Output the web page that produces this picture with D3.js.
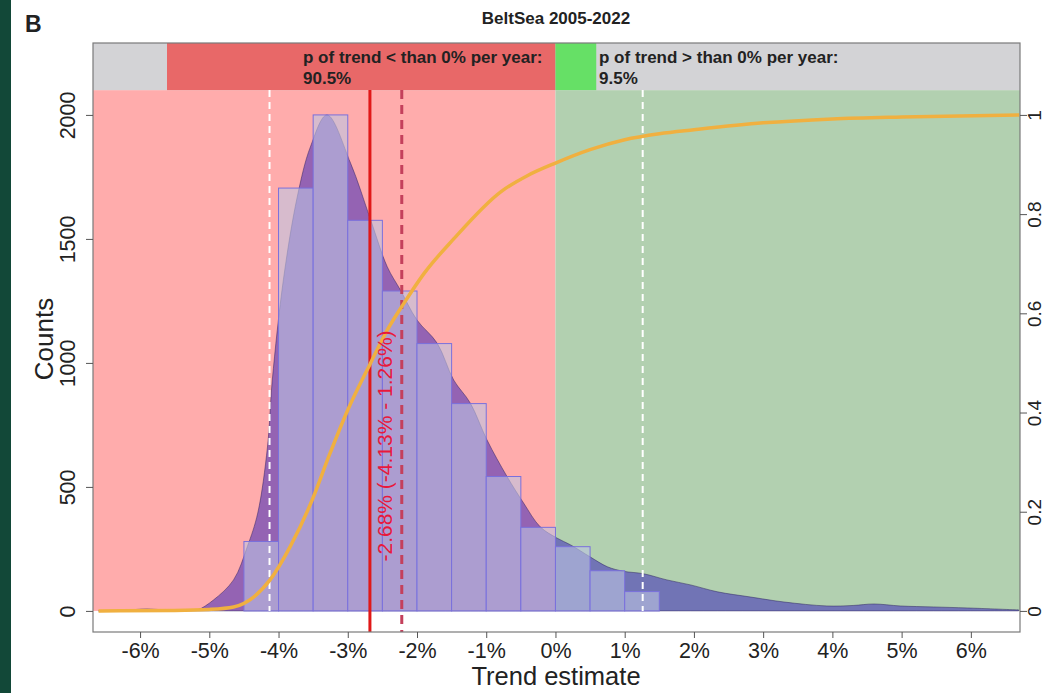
<!DOCTYPE html>
<html>
<head>
<meta charset="utf-8">
<script src="https://cdn.jsdelivr.net/npm/d3@7"></script>
<style>
  html, body { margin: 0; padding: 0; background: #ffffff; }
  svg text { font-family: "Liberation Sans", Arial, Helvetica, sans-serif; }
</style>
</head>
<body>
<svg id="chart" width="1043" height="693"></svg>
<script>
// ---------------- data ----------------
const titleText = "BeltSea 2005-2022";
const panelLetter = "B";
const xTicks = [-6, -5, -4, -3, -2, -1, 0, 1, 2, 3, 4, 5, 6];
const yTicks = [0, 500, 1000, 1500, 2000];
const y2Ticks = [0, 0.2, 0.4, 0.6, 0.8, 1];
const y2TickLabels = ["0", "0.2", "0.4", "0.6", "0.8", "1"];

// histogram bins (trend in %), width 0.5
const binStarts = [-4.5, -4, -3.5, -3, -2.5, -2, -1.5, -1, -0.5, 0, 0.5, 1];
const binCounts = [280, 1705, 2000, 1575, 1290, 1078, 836, 542, 337, 259, 162, 78];
const binWidth = 0.5;

// kernel density (scaled to counts)
const densX = [-6.6, -6.2, -5.9, -5.6, -5.3, -5.17, -4.94, -4.65, -4.45, -4.3, -4.16, -4.09, -3.93, -3.73, -3.54, -3.3, -2.96, -2.67, -2.43, -2.24, -2.0, -1.71, -1.47, -1.23, -0.99, -0.7, -0.46, -0.22, 0.02, 0.22, 0.5, 0.75, 0.98, 1.27, 1.61, 1.95, 2.34, 2.82, 3.3, 3.92, 4.3, 4.6, 4.98, 5.46, 5.95, 6.69];
const densY = [0, 3, 8, 3, 2, 4, 44, 125, 260, 395, 661, 931, 1335, 1669, 1871, 2000, 1806, 1577, 1388, 1294, 1173, 1080, 931, 838, 690, 542, 435, 339, 294, 266, 218, 178, 160, 150, 125, 105, 77, 56, 36, 20, 22, 28, 20, 16, 12, 4];

// cumulative probability (right axis)
const cdfX = [-6.6, -5.5, -5, -4.65, -4.36, -4.12, -3.83, -3.54, -3.25, -3.0, -2.67, -2.43, -2.19, -1.9, -1.47, -0.79, -0.4, 0, 0.5, 1, 1.5, 2, 3, 4, 5, 6.7];
const cdfY = [0, 0.001, 0.003, 0.008, 0.028, 0.063, 0.13, 0.215, 0.32, 0.405, 0.5, 0.566, 0.62, 0.68, 0.75, 0.845, 0.878, 0.903, 0.93, 0.95, 0.962, 0.97, 0.984, 0.992, 0.996, 1.0];

const median = -2.68, ciLow = -4.13, ciHigh = 1.26, meanTrend = -2.22;
const pLess = 0.905, pMore = 0.095;
const lessLabel = ["p of trend < than 0% per year:", "90.5%"];
const moreLabel = ["p of trend > than 0% per year:", "9.5%"];
const medianLabel = "-2.68% (-4.13% - 1.26%)";
const xTitle = "Trend estimate", yTitle = "Counts";

// ---------------- layout ----------------
const svg = d3.select("#chart");
const L = 93, R = 1020, T = 43, B = 632;
const x = d3.scaleLinear().domain([-6.68, 6.71]).range([L, R]);
const y = d3.scaleLinear().domain([-85, 2290]).range([B, T]);
const y2 = d3.scaleLinear().domain([0, 1]).range([y(0), y(2000)]);
const bandBase = 2100;      // start of top probability band (count units)
const bandScale = 6.2;      // width of 100% probability in x units
const tickFont = 21.5;

svg.append("rect").attr("x", 0).attr("y", 0).attr("width", 1043).attr("height", 693).attr("fill", "#ffffff");
svg.append("rect").attr("x", 0).attr("y", 0).attr("width", 11).attr("height", 693).attr("fill", "#124838");

const clip = svg.append("defs").append("clipPath").attr("id", "clip");
clip.append("rect").attr("x", L).attr("y", T).attr("width", R - L).attr("height", B - T);
const g = svg.append("g").attr("clip-path", "url(#clip)");

// backgrounds
g.append("rect").attr("x", x(-7)).attr("y", y(bandBase)).attr("width", x(0) - x(-7)).attr("height", y(0) - y(bandBase)).attr("fill", "#FFACAC");
g.append("rect").attr("x", x(0)).attr("y", y(bandBase)).attr("width", x(7) - x(0)).attr("height", y(0) - y(bandBase)).attr("fill", "#B2D0B0");
// top band
g.append("rect").attr("x", L).attr("y", T).attr("width", R - L).attr("height", y(bandBase) - T).attr("fill", "#D3D3D6");
g.append("rect").attr("x", x(-pLess * bandScale)).attr("y", T).attr("width", x(0) - x(-pLess * bandScale)).attr("height", y(bandBase) - T).attr("fill", "#E86868");
g.append("rect").attr("x", x(0)).attr("y", T).attr("width", x(pMore * bandScale) - x(0)).attr("height", y(bandBase) - T).attr("fill", "#66E066");

// density polygon
const densPts = densX.map((d, i) => [d, densY[i]]);
const area = d3.area().x(d => x(d[0])).y0(y(0)).y1(d => y(d[1])).curve(d3.curveCatmullRom.alpha(0.5));
g.append("path").datum(densPts).attr("d", area).attr("fill", "rgba(60,40,185,0.55)").attr("stroke", "rgba(40,30,90,0.6)").attr("stroke-width", 0.8);

// histogram bars
g.selectAll("rect.bar").data(binStarts).enter().append("rect").attr("class", "bar")
  .attr("x", d => x(d)).attr("width", d => x(d + binWidth) - x(d))
  .attr("y", (d, i) => y(binCounts[i])).attr("height", (d, i) => y(0) - y(binCounts[i]))
  .attr("fill", "rgba(188,196,226,0.6)").attr("stroke", "#7a70dc").attr("stroke-width", 1);

// CI lines (white dashed)
[ciLow, ciHigh].forEach(v => {
  g.append("line").attr("x1", x(v)).attr("x2", x(v)).attr("y1", y(bandBase)).attr("y2", y(0))
    .attr("stroke", "#ffffff").attr("stroke-width", 2).attr("stroke-dasharray", "7,5");
});
// mean (dashed) & median (solid)
g.append("line").attr("x1", x(meanTrend)).attr("x2", x(meanTrend)).attr("y1", y(bandBase)).attr("y2", B)
  .attr("stroke", "#C4405C").attr("stroke-width", 3).attr("stroke-dasharray", "9,6");
g.append("line").attr("x1", x(median)).attr("x2", x(median)).attr("y1", y(bandBase)).attr("y2", B)
  .attr("stroke", "#E01818").attr("stroke-width", 3);

// CDF line
const cdfPts = cdfX.map((d, i) => [d, cdfY[i]]);
const line = d3.line().x(d => x(d[0])).y(d => y2(d[1])).curve(d3.curveMonotoneX);
g.append("path").datum(cdfPts).attr("d", line).attr("fill", "none").attr("stroke", "#F0B040").attr("stroke-width", 3.5);

// median label
svg.append("text").attr("transform", `translate(${x(median) + 15},446) rotate(-90)`)
  .attr("text-anchor", "middle").attr("dominant-baseline", "central")
  .attr("font-size", 21).attr("fill", "#E8183C").text(medianLabel);

// band labels
[[lessLabel, 303], [moreLabel, 599]].forEach(([lab, px]) => {
  svg.append("text").attr("x", px).attr("y", 63).attr("font-size", 17).attr("font-weight", "bold").attr("fill", "#222").text(lab[0]);
  svg.append("text").attr("x", px).attr("y", 84).attr("font-size", 17).attr("font-weight", "bold").attr("fill", "#222").text(lab[1]);
});

// frame
svg.append("rect").attr("x", L).attr("y", T).attr("width", R - L).attr("height", B - T)
  .attr("fill", "none").attr("stroke", "#7a7a7a").attr("stroke-width", 1.2);

// axes
const axisColor = "#555";
const xAxis = svg.append("g").attr("transform", `translate(0,${B})`)
  .call(d3.axisBottom(x).tickValues(xTicks).tickFormat(d => d + "%").tickSize(6).tickPadding(5));
xAxis.select(".domain").remove();
xAxis.selectAll("line").attr("stroke", axisColor);
xAxis.selectAll("text").attr("font-size", tickFont).attr("fill", "#222").attr("font-family", "Liberation Sans, Arial, sans-serif");

const yAxis = svg.append("g").attr("transform", `translate(${L},0)`)
  .call(d3.axisLeft(y).tickValues(yTicks).tickSize(7).tickFormat(d3.format("d")));
yAxis.select(".domain").remove();
yAxis.selectAll("line").attr("stroke", axisColor);
yAxis.selectAll("text").attr("font-size", tickFont).attr("fill", "#222").attr("font-family", "Liberation Sans, Arial, sans-serif")
  .attr("x", 0).attr("y", 0).attr("dy", null).attr("text-anchor", "middle").attr("dominant-baseline", "central")
  .attr("transform", "translate(-25,0) rotate(-90)");

const y2Axis = svg.append("g").attr("transform", `translate(${R},0)`)
  .call(d3.axisRight(y2).tickValues(y2Ticks).tickSize(7).tickFormat((d, i) => y2TickLabels[i]));
y2Axis.select(".domain").remove();
y2Axis.selectAll("line").attr("stroke", axisColor);
y2Axis.selectAll("text").attr("font-size", 19).attr("fill", "#222").attr("font-family", "Liberation Sans, Arial, sans-serif")
  .attr("x", 0).attr("y", 0).attr("dy", null).attr("text-anchor", "middle").attr("dominant-baseline", "central")
  .attr("transform", "translate(14,0) rotate(-90)");

// titles
svg.append("text").attr("x", 556).attr("y", 24).attr("text-anchor", "middle").attr("font-size", 17).attr("font-weight", "bold").attr("fill", "#222").text(titleText);
svg.append("text").attr("x", 25).attr("y", 32).attr("font-size", 23).attr("font-weight", "bold").attr("fill", "#222").text(panelLetter);
svg.append("text").attr("x", 556).attr("y", 685).attr("text-anchor", "middle").attr("font-size", 25.5).attr("fill", "#222").text(xTitle);
svg.append("text").attr("transform", "translate(44,339) rotate(-90)").attr("text-anchor", "middle").attr("dominant-baseline", "central").attr("font-size", 26).attr("fill", "#222").text(yTitle);
</script>
</body>
</html>
